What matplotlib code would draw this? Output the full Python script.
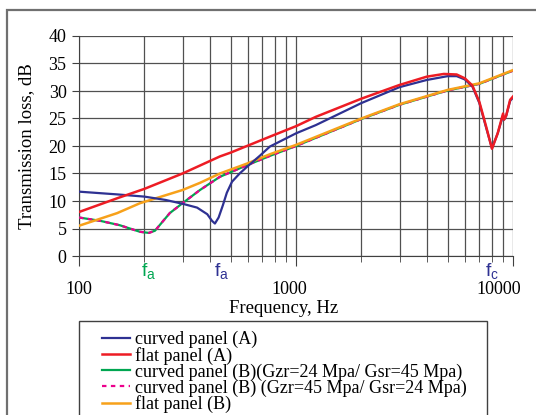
import matplotlib.pyplot as plt
import matplotlib.transforms as mtransforms
from matplotlib.patches import Rectangle
from matplotlib.ticker import FixedLocator, NullFormatter

plt.rcParams['font.family'] = ['Liberation Serif', 'DejaVu Serif']
plt.rcParams['mathtext.fontset'] = 'custom'
plt.rcParams['mathtext.rm'] = 'Liberation Sans'
plt.rcParams['mathtext.it'] = 'Liberation Sans'

# curved panel (A)
f_curved_a = [100, 150, 200, 250, 300, 350, 390, 410, 423, 440, 460, 480, 507, 550,
              594, 680, 758, 1000, 1234, 2000, 3000, 4000, 5000, 5500, 6000, 6500,
              7000, 7500, 8000, 8500, 9000, 9100, 9300, 9700, 10000]
tl_curved_a = [11.7, 11.2, 10.8, 10.2, 9.5, 8.8, 7.6, 6.4, 5.9, 7.0, 9.2, 11.5, 13.5, 15.0,
               16.2, 18.2, 19.9, 22.3, 23.8, 27.8, 30.7, 32.0, 32.7, 32.7, 32.1, 30.8,
               27.8, 23.5, 19.6, 22.3, 25.6, 24.8, 25.5, 28.2, 28.8]

# flat panel (A)
f_flat_a = [100, 150, 200, 300, 446, 500, 758, 1000, 1234, 2000, 3000, 4000, 4800, 5500,
            6000, 6500, 7000, 7500, 8000, 8500, 9000, 9100, 9300, 9700, 10000]
tl_flat_a = [8.0, 10.5, 12.2, 15.0, 18.1, 18.8, 21.7, 23.6, 25.3, 28.6, 31.1, 32.6, 33.1, 33.0,
             32.3, 31.0, 28.0, 23.7, 19.5, 22.3, 25.9, 24.8, 25.5, 28.4, 29.0]

# curved panel (B), both shear modulus combinations
f_curved_b = [100, 125, 154, 191, 210, 224, 262, 300, 361, 446, 594, 758, 1000,
              2000, 3000, 5000, 7000, 10000]
tl_curved_b1 = [7.0, 6.4, 5.6, 4.4, 4.2, 4.6, 7.8, 9.6, 12.0, 14.4, 16.5, 18.2, 20.0,
                24.9, 27.5, 30.1, 31.3, 33.7]
tl_curved_b2 = [7.0, 6.4, 5.6, 4.4, 4.2, 4.6, 7.8, 9.6, 12.0, 14.4, 16.5, 18.2, 20.0,
                24.9, 27.5, 30.1, 31.3, 33.7]

# flat panel (B)
f_flat_b = [100, 150, 191, 300, 361, 446, 594, 758, 1000, 2000, 3000, 5000, 7000, 10000]
tl_flat_b = [5.5, 7.8, 9.6, 12.0, 13.3, 15.0, 16.8, 18.5, 20.2, 25.0, 27.6, 30.2, 31.4, 33.8]

labels = ['curved panel (A)', 'flat panel (A)',
          'curved panel (B)(Gzr=24 Mpa/ Gsr=45 Mpa)',
          'curved panel (B) (Gzr=45 Mpa/ Gsr=24 Mpa)',
          'flat panel (B)']

W, H = 536, 415
fig = plt.figure(figsize=(W / 100, H / 100), dpi=100)
ax = fig.add_axes([79 / W, 1 - 256 / H, (513 - 79) / W, (256 - 36) / H])

# outer frame
fig.patches.append(Rectangle((7 / W, -0.1), 1.2, 1 - 10 / H + 0.1, transform=fig.transFigure,
                             fill=False, edgecolor='#707070', linewidth=1.6))

l_green, = ax.plot(f_curved_b, tl_curved_b1, color='#00a651', lw=1.6, zorder=3)
l_mag, = ax.plot(f_curved_b, tl_curved_b2, color='#ec008c', lw=1.6, ls=(0, (2, 2)), zorder=4)
l_orange, = ax.plot(f_flat_b, tl_flat_b, color='#f7a11a', lw=1.8, zorder=5)
l_blue, = ax.plot(f_curved_a, tl_curved_a, color='#2e3192', lw=1.6, zorder=6)
l_red, = ax.plot(f_flat_a, tl_flat_a, color='#ed1c24', lw=1.8, zorder=7)

ax.set_xscale('log')
ax.set_xlim(100, 10000)
ax.set_ylim(0, 40)
ax.set_yticks(range(0, 41, 5))
ax.xaxis.set_major_locator(FixedLocator([100, 1000, 10000]))
ax.xaxis.set_minor_locator(FixedLocator([m * d for d in (100, 1000) for m in range(2, 10)]))
ax.xaxis.set_minor_formatter(NullFormatter())
ax.set_xticklabels(['100', '1000', '10000'])

ax.grid(True, which='both', color='#505050', lw=0.9)
ax.set_axisbelow(True)
for s in ('top', 'right'):
    ax.spines[s].set_visible(False)
for s in ('left', 'bottom'):
    ax.spines[s].set_color('#404040')

ax.tick_params(axis='y', direction='out', length=5, pad=4, labelsize=13, color='#404040')
ax.tick_params(axis='x', which='major', direction='out', length=7, pad=11, labelsize=13, color='#404040')
ax.tick_params(axis='x', which='minor', direction='out', length=4, color='#404040')

for lab, dx in zip(ax.get_xticklabels(), [0, -7, -14]):
    lab.set_transform(lab.get_transform() + mtransforms.ScaledTranslation(dx / 100, 0, fig.dpi_scale_trans))

ax.set_xlabel('Frequency, Hz', fontsize=13.5)
ax.set_ylabel('Transmission loss, dB', fontsize=13.5)
ax.xaxis.set_label_coords((284 - 79) / (513 - 79), -(300 - 256) / (256 - 36))
ax.yaxis.set_label_coords(-(79 - 35) / (513 - 79), 0.5)

# characteristic frequency markers
tr = mtransforms.blended_transform_factory(ax.transData, fig.transFigure)
ax.text(194, 1 - 271 / H, r'$\mathrm{f_a}$', transform=tr, color='#00a651', fontsize=14, ha='left', va='center')
ax.text(418, 1 - 271 / H, r'$\mathrm{f_a}$', transform=tr, color='#2e3192', fontsize=14, ha='left', va='center')
ax.text(8000, 1 - 271 / H, r'$\mathrm{f_c}$', transform=tr, color='#2e3192', fontsize=14, ha='center', va='center')

# legend box
fig.patches.append(Rectangle((79 / W, -0.1), (487 - 79) / W, 1 - 321 / H + 0.1, transform=fig.transFigure,
                             fill=False, edgecolor='#404040', linewidth=1.0))
fig.legend([l_blue, l_red, l_green, l_mag, l_orange], labels, loc='upper left',
           bbox_to_anchor=(102 / W, 1 - 331 / H), frameon=False, fontsize=13,
           borderpad=0, borderaxespad=0, labelspacing=-0.08, handlelength=1.55,
           handletextpad=0.3)

fig.savefig('out.png', dpi=100)
